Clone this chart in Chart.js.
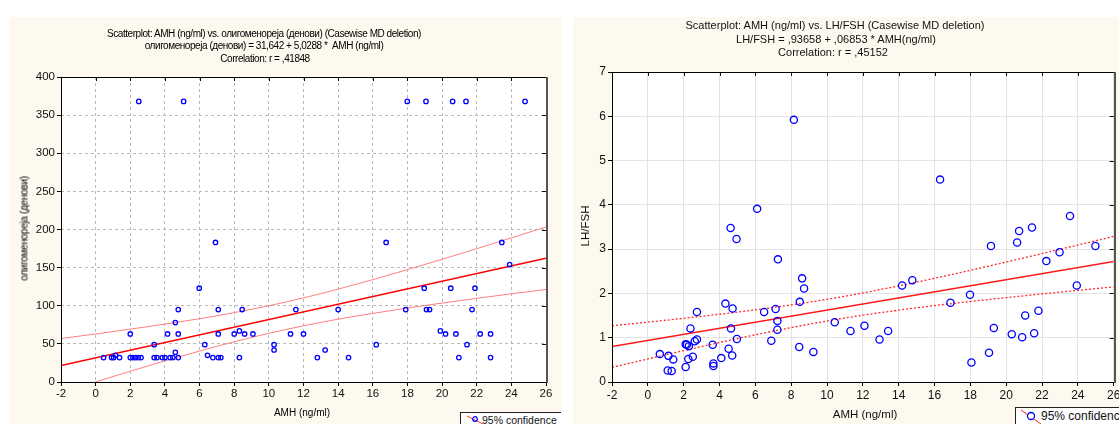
<!DOCTYPE html>
<html>
<head>
<meta charset="utf-8">
<script src="https://cdn.jsdelivr.net/npm/chart.js@4.4.1/dist/chart.umd.min.js"></script>
<style>
  html, body { margin:0; padding:0; }
  body { width:1119px; height:424px; overflow:hidden; background:#fff; position:relative;
         font-family:"Liberation Sans", Arial, sans-serif; color:#111; }
  .panel { position:absolute; background:#fdf9ef; overflow:hidden; }
  .panel canvas { position:absolute; left:0; top:0; }
  .t { position:absolute; white-space:nowrap; text-align:center; }
  .legend { position:absolute; background:#fff; border:1px solid #222; }
  .legend span { position:absolute; white-space:nowrap; }
</style>
</head>
<body>
<div class="panel" id="p1" style="left:9px;top:17px;width:552px;height:407px;">
  <canvas id="c1" width="552" height="407"></canvas>
  <div class="legend" style="left:451px;top:395px;width:130px;height:30px;">
    <svg style="position:absolute;left:3px;top:2px" width="22" height="10">
      <line x1="3" y1="1" x2="19" y2="9" stroke="#ff3030" stroke-width="1"/>
      <circle cx="11" cy="4" r="2.3" fill="none" stroke="#0000ff" stroke-width="1.2"/>
    </svg>
    <span style="left:21px;top:1px;font-size:10.5px;">95% confidence</span>
  </div>
</div>
<div class="panel" id="p2" style="left:573px;top:17px;width:546px;height:407px;">
  <canvas id="c2" width="546" height="407"></canvas>
  <div class="legend" style="left:442px;top:390px;width:140px;height:30px;">
    <svg style="position:absolute;left:2px;top:1px" width="26" height="16">
      <line x1="3" y1="1" x2="23" y2="15" stroke="#ff2020" stroke-width="1"/>
      <circle cx="13" cy="7" r="3.5" fill="#fff" stroke="#0000ff" stroke-width="1.3"/>
    </svg>
    <span style="left:25px;top:1px;font-size:12px;">95% confidence</span>
  </div>
</div>

<!-- left chart texts -->
<div class="t" style="left:0px;width:528px;top:28px;font-size:10px;letter-spacing:-0.45px;color:#000;">Scatterplot: AMH (ng/ml) vs. олигоменореја (денови) (Casewise MD deletion)</div>
<div class="t" style="left:0px;width:528px;top:40px;font-size:10px;letter-spacing:-0.45px;color:#000;">олигоменореја (денови) = 31,642 + 5,0288 *&nbsp; AMH (ng/ml)</div>
<div class="t" style="left:0px;width:530px;top:53px;font-size:10px;letter-spacing:-0.45px;color:#000;">Correlation: r = ,41848</div>
<div class="t" style="left:202px;width:200px;top:407px;font-size:10px;color:#000;">AMH (ng/ml)</div>
<div class="t" style="left:-76px;width:200px;top:223px;font-size:10px;letter-spacing:-0.3px;color:#000;transform:rotate(-90deg);">олигоменореја (денови)</div>

<!-- right chart texts -->
<div class="t" style="left:535px;width:600px;top:19px;font-size:11px;">Scatterplot: AMH (ng/ml) vs. LH/FSH (Casewise MD deletion)</div>
<div class="t" style="left:536px;width:600px;top:33px;font-size:11px;">LH/FSH = ,93658 + ,06853 * AMH(ng/ml)</div>
<div class="t" style="left:533px;width:600px;top:46px;font-size:11px;">Correlation: r = ,45152</div>
<div class="t" style="left:765px;width:200px;top:408px;font-size:11.5px;">AMH (ng/ml)</div>
<div class="t" style="left:485px;width:200px;top:220px;font-size:11.5px;transform:rotate(-90deg);">LH/FSH</div>

<script>
// ---------- Left chart data: AMH vs олигоменореја (денови) ----------
const L_AMH = [2.49, 5.08, 17.99, 19.07, 20.61, 21.38, 24.79,
  0.46, 0.92, 1.04, 1.15, 1.38, 2.0, 2.0, 2.15, 2.3, 2.46, 2.62, 3.38, 3.38, 3.54, 3.85, 4.0,
  4.15, 4.3, 4.46, 4.6, 4.6, 4.77, 4.77, 4.77, 5.98, 6.3, 6.46, 6.77, 6.92, 7.08, 7.08, 7.08,
  7.23, 8.0, 8.3, 8.3, 8.46, 8.6, 9.08, 10.3, 10.3, 11.25, 11.56, 12.0, 12.8, 13.25, 14.0,
  14.6, 16.2, 16.77, 17.9, 18.97, 19.1, 19.28, 19.9, 20.2, 20.5, 20.8, 20.97, 21.44, 21.73,
  21.9, 22.2, 22.8, 22.8, 23.45, 23.9];
const L_OLIGO = [368, 368, 368, 368, 368, 368, 368,
  32, 32, 32, 35, 32, 63, 32, 32, 32, 32, 32, 49, 32, 32, 32, 32,
  63, 32, 32, 78, 39, 95, 63, 32, 123, 49, 35, 32, 183, 95, 63, 32,
  32, 63, 67, 32, 95, 63, 63, 49, 42, 63, 95, 63, 32, 42, 95,
  32, 49, 183, 95, 123, 95, 95, 67, 63, 123, 63, 32, 49, 95,
  123, 63, 63, 32, 183, 154];
const L_FIT_X = [-2, 26];
const L_FIT_Y = [21.58, 162.39];
const L_BAND_X = [-2, 0, 2, 4, 6, 8, 10, 12, 14, 16, 18, 20, 22, 24, 26];
const L_UPPER = [57.0, 63.0, 69.3, 75.9, 83.0, 91.0, 100.0, 110.3, 121.8, 134.2, 147.4, 160.9, 174.9, 189.0, 203.4];
const L_LOWER = [-13.8, 0.2, 14.1, 27.7, 40.6, 52.8, 63.8, 73.7, 82.4, 90.0, 97.0, 103.5, 109.7, 115.6, 121.4];
const L_X_AXIS = [-2, 26, 2];   // min, max, step
const L_Y_AXIS = [0, 400, 50];

// ---------- Right chart data: AMH vs LH/FSH ----------
const R_AMH = [0.67, 1.15, 1.42, 1.11, 1.33, 2.11, 2.11, 2.18, 2.29, 2.26, 2.38, 2.51, 2.62, 2.74,
  2.74, 3.62, 3.66, 3.66, 4.10, 4.33, 4.51, 4.64, 4.71, 4.73, 4.97, 4.62, 4.95, 6.10, 8.15,
  6.49, 6.89, 7.13, 7.23, 7.23, 7.26, 8.45, 8.48, 8.61, 8.72, 9.24, 10.43, 11.31, 12.09,
  12.93, 13.41, 14.19, 14.76, 16.31, 16.89, 17.98, 18.06, 19.04, 19.15, 19.31, 20.31,
  20.61, 20.72, 20.89, 21.06, 21.44, 21.56, 21.80, 22.24, 22.98, 23.56, 23.94, 24.98];
const R_LHFSH = [0.63, 0.59, 0.51, 0.26, 0.25, 0.34, 0.85, 0.84, 0.81, 0.52, 1.21, 0.57, 0.92, 0.96,
  1.58, 0.84, 0.42, 0.36, 0.54, 1.77, 0.75, 1.21, 0.60, 1.66, 0.97, 3.48, 3.23, 3.91, 5.92,
  1.58, 0.93, 1.65, 1.38, 1.18, 2.77, 0.79, 1.81, 2.34, 2.11, 0.68, 1.35, 1.15, 1.27,
  0.96, 1.15, 2.18, 2.30, 4.57, 1.79, 1.97, 0.44, 0.66, 3.07, 1.22, 1.08,
  3.15, 3.41, 1.01, 1.50, 3.49, 1.10, 1.61, 2.73, 2.93, 3.75, 2.18, 3.07];
const R_FIT_X = [-2, 26];
const R_FIT_Y = [0.7995, 2.7184];
const R_BAND_X = [-2, 0, 2, 4, 6, 8, 10, 12, 14, 16, 18, 20, 22, 24, 26];
const R_UPPER = [1.270, 1.352, 1.438, 1.530, 1.630, 1.741, 1.867, 2.011, 2.170, 2.342, 2.522, 2.709, 2.900, 3.093, 3.288];
const R_LOWER = [0.330, 0.521, 0.709, 0.891, 1.066, 1.229, 1.377, 1.508, 1.622, 1.725, 1.818, 1.905, 1.989, 2.069, 2.148];
const R_X_AXIS = [-2, 26, 2];
const R_Y_AXIS = [0, 7, 1];

const pts = (xs, ys) => xs.map((x, i) => ({x: x, y: ys[i]}));

const framePlugin = {
  id: 'frame',
  beforeDraw(chart) {
    const a = chart.chartArea, ctx = chart.ctx;
    ctx.save();
    ctx.fillStyle = '#ffffff';
    ctx.fillRect(a.left, a.top, a.right - a.left, a.bottom - a.top);
    ctx.restore();
  },
  afterDraw(chart) {
    const a = chart.chartArea, ctx = chart.ctx;
    const sx = chart.scales.x, sy = chart.scales.y;
    ctx.save();
    ctx.strokeStyle = '#000';
    ctx.lineWidth = 1;
    ctx.beginPath();
    sx.ticks.forEach(t => {
      const p = Math.round(sx.getPixelForValue(t.value)) + 0.5;
      ctx.moveTo(p, a.top); ctx.lineTo(p, a.top + 4);
    });
    sy.ticks.forEach(t => {
      const p = Math.round(sy.getPixelForValue(t.value)) + 0.5;
      ctx.moveTo(a.right - 4, p); ctx.lineTo(a.right, p);
    });
    ctx.stroke();
    ctx.strokeRect(Math.round(a.left) + 0.5, Math.round(a.top) + 0.5,
                   Math.round(a.right - a.left), Math.round(a.bottom - a.top));
    ctx.strokeStyle = '#555';
    ctx.lineWidth = 2;
    ctx.beginPath();
    ctx.moveTo(Math.round(a.right) + 1, a.top);
    ctx.lineTo(Math.round(a.right) + 1, a.bottom + 1);
    ctx.stroke();
    ctx.restore();
  }
};

function makeChart(id, cfg) {
  const fontFamily = '"Liberation Sans", Arial, sans-serif';
  return new Chart(document.getElementById(id), {
    type: 'scatter',
    data: { datasets: cfg.datasets },
    options: {
      responsive: false,
      animation: false,
      events: [],
      plugins: { legend: { display: false }, tooltip: { enabled: false }, title: { display: false } },
      layout: { padding: cfg.padding },
      scales: {
        x: {
          type: 'linear', min: cfg.xAxis[0], max: cfg.xAxis[1],
          ticks: { stepSize: cfg.xAxis[2], autoSkip: false, maxRotation: 0, padding: cfg.xPad,
                   color: '#111', font: { family: fontFamily, size: cfg.tickSize } },
          grid: { color: cfg.gridColor, tickColor: '#000', tickLength: 4, drawTicks: true },
          border: { display: false, dash: cfg.gridDash },
          afterFit(s) { s.height = cfg.xHeight; s.paddingLeft = 0; s.paddingRight = 0; }
        },
        y: {
          type: 'linear', min: cfg.yAxis[0], max: cfg.yAxis[1],
          ticks: { stepSize: cfg.yAxis[2], autoSkip: false, padding: 2,
                   color: '#111', font: { family: fontFamily, size: cfg.tickSize } },
          grid: { color: cfg.gridColor, tickColor: '#000', tickLength: 4, drawTicks: true },
          border: { display: false, dash: cfg.gridDash },
          afterFit(s) { s.width = cfg.yWidth; s.paddingTop = 0; s.paddingBottom = 0; }
        }
      }
    },
    plugins: [framePlugin]
  });
}

makeChart('c1', {
  padding: { left: 0, right: 15, top: 60, bottom: 0 },
  xAxis: L_X_AXIS, yAxis: L_Y_AXIS, xHeight: 42, yWidth: 52, xPad: 1, tickSize: 11.5,
  gridColor: '#b9b9b9', gridDash: [3, 3],
  datasets: [
    { data: pts(L_AMH, L_OLIGO), pointRadius: 2.2, pointBorderWidth: 1.3,
      pointBorderColor: '#0000ff', pointBackgroundColor: 'rgba(255,255,255,0)', showLine: false },
    { data: pts(L_FIT_X, L_FIT_Y), showLine: true, pointRadius: 0, borderColor: '#ff0000', borderWidth: 1.5 },
    { data: pts(L_BAND_X, L_UPPER), showLine: true, pointRadius: 0, borderColor: '#ff8080', borderWidth: 1, cubicInterpolationMode: 'monotone' },
    { data: pts(L_BAND_X, L_LOWER), showLine: true, pointRadius: 0, borderColor: '#ff8080', borderWidth: 1, cubicInterpolationMode: 'monotone' }
  ]
});

makeChart('c2', {
  padding: { left: 0, right: 2, top: 55, bottom: 0 },
  xAxis: R_X_AXIS, yAxis: R_Y_AXIS, xHeight: 42, yWidth: 39, xPad: 2, tickSize: 12,
  gridColor: '#e3e3e3', gridDash: [],
  datasets: [
    { data: pts(R_AMH, R_LHFSH), pointRadius: 3.6, pointBorderWidth: 1.3,
      pointBorderColor: '#0000ff', pointBackgroundColor: 'rgba(255,255,255,0)', showLine: false },
    { data: pts(R_FIT_X, R_FIT_Y), showLine: true, pointRadius: 0, borderColor: '#ff1a1a', borderWidth: 1.5 },
    { data: pts(R_BAND_X, R_UPPER), showLine: true, pointRadius: 0, borderColor: '#ff2a2a', borderWidth: 1.3, borderDash: [2, 2], cubicInterpolationMode: 'monotone' },
    { data: pts(R_BAND_X, R_LOWER), showLine: true, pointRadius: 0, borderColor: '#ff2a2a', borderWidth: 1.3, borderDash: [2, 2], cubicInterpolationMode: 'monotone' }
  ]
});
</script>
</body>
</html>
